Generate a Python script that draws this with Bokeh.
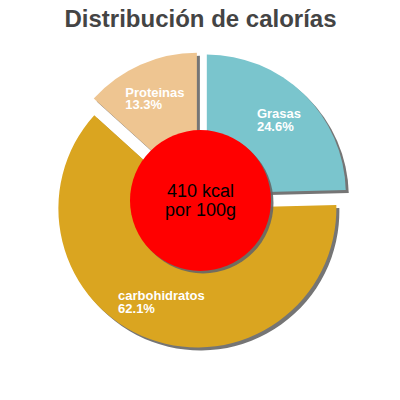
import numpy as np
from bokeh.plotting import figure
from bokeh.models import Range1d, ColumnDataSource
from bokeh.core.properties import value
from bokeh.embed import file_html
from bokeh.resources import INLINE

# ---- data ----
title_text = "Distribución de calorías"
labels = ["Grasas", "carbohidratos", "Proteinas"]
percents = [24.6, 62.1, 13.3]
colors = ["#7AC5CD", "#DAA520", "#EEC591"]
center_lines = ["410 kcal", "por 100g"]

# ---- geometry (screen px; data y = 400 - screen y) ----
CX, CY = 200.0, 400 - 199.5
R = 139.0
EXPLODE = 9.0
SH = 3.0
HOLE_R = 70.5
LABEL_R = 101.0
FONT = "Liberation Sans"

pct = np.array(percents, dtype=float)
frac = pct / pct.sum()
f1 = np.cumsum(frac)
f0 = f1 - frac
th0 = 2 * np.pi * f0          # clockwise from top
th1 = 2 * np.pi * f1
thm = (th0 + th1) / 2
start = np.pi / 2 - th1       # bokeh: ccw from +x
end = np.pi / 2 - th0
sx = CX + EXPLODE * np.sin(thm)
sy = CY + EXPLODE * np.cos(thm)

src = ColumnDataSource(dict(x=sx, y=sy, xs=sx + SH, ys=sy - SH,
                            start=start, end=end, color=colors))

p = figure(width=384, height=384, output_backend="svg", toolbar_location=None,
           x_range=Range1d(0, 384), y_range=Range1d(16, 400), min_border=0)
p.axis.visible = False
p.grid.visible = False
p.outline_line_color = None
p.background_fill_color = "white"

# shadows
p.wedge(x="xs", y="ys", radius=R, start_angle="start", end_angle="end",
        direction="anticlock", fill_color="#666666", fill_alpha=0.9,
        line_color=None, source=src)
# slices
p.wedge(x="x", y="y", radius=R, start_angle="start", end_angle="end",
        direction="anticlock", fill_color="color", line_color=None, source=src)

# center circle + shadow
p.circle(x=[CX + 2.5], y=[400 - 200 - 2.5], radius=HOLE_R,
         fill_color="#666666", fill_alpha=0.9, line_color=None)
p.circle(x=[CX], y=[400 - 200], radius=HOLE_R, fill_color="#FF0000",
         line_color=None)

# center text
p.text(x=[CX], y=[400 - 200], text=["\n".join(center_lines)],
       text_font=value(FONT), text_font_size="18px", text_color="black",
       text_align="center", text_baseline="middle", text_line_height=0.95)

# slice labels
lab_txt = [f"{l}\n{v:.1f}%" for l, v in zip(labels, percents)]
lcx = sx + LABEL_R * np.sin(thm)
lcy = sy + LABEL_R * np.cos(thm)
est_w = np.array([len(l) for l in labels]) * 6.8
p.text(x=lcx - est_w / 2, y=lcy + 1, text=lab_txt,
       text_font=value(FONT), text_font_size="13px", text_font_style="bold",
       text_color="white", text_align="left", text_baseline="middle",
       text_line_height=0.85)

# title
p.text(x=[CX], y=[400 - 18], text=[title_text], text_font=value(FONT),
       text_font_size="24px", text_font_style="bold", text_color="#444444",
       text_align="center", text_baseline="alphabetic")

open("out.html", "w").write(file_html(p, INLINE))
